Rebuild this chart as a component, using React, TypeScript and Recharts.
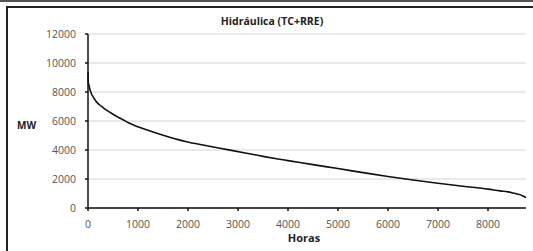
import React from 'react';
import { LineChart, Line, XAxis, YAxis, CartesianGrid } from 'recharts';

const hours = [0, 5, 20, 40, 67, 100, 167, 230, 300, 400, 500, 600, 700, 800, 900, 1170, 1440, 1700, 1970, 2300, 2640, 3170, 3500, 3800, 4000, 4500, 5000, 5500, 6000, 6500, 7000, 7500, 8000, 8240, 8400, 8506, 8600, 8680, 8740, 8760];
const mw = [9400, 8700, 8450, 8150, 7900, 7680, 7330, 7120, 6930, 6680, 6470, 6270, 6090, 5900, 5740, 5390, 5080, 4810, 4570, 4340, 4120, 3780, 3560, 3380, 3270, 2990, 2720, 2440, 2170, 1930, 1710, 1500, 1300, 1180, 1110, 1030, 950, 860, 760, 720];
const xTicks = [0, 1000, 2000, 3000, 4000, 5000, 6000, 7000, 8000];
const yTicks = [0, 2000, 4000, 6000, 8000, 10000, 12000];
const title = 'Hidráulica (TC+RRE)';
const xLabel = 'Horas';
const yLabel = 'MW';

const data = hours.map((h, i) => ({ h, v: mw[i] }));

const FONT = '"Open Sans", "DejaVu Sans", sans-serif';

export default function App() {
  return (
    <div style={{ position: 'absolute', left: 0, top: 0, width: 533, height: 251, background: '#fff', overflow: 'hidden' }}>
      <div style={{ position: 'absolute', left: 0, top: 0, width: 533, height: 2, background: '#555' }} />
      <div style={{ position: 'absolute', left: 6, top: 6, width: 527, height: 1.5, background: '#222' }} />
      <div style={{ position: 'absolute', left: 6, top: 6, width: 1.5, height: 245, background: '#222' }} />
      <LineChart width={533} height={251} data={data} margin={{ top: 34, right: 7, bottom: 0, left: 0 }}>
        <CartesianGrid horizontal={true} vertical={false} stroke="#d4d4d4" strokeWidth={1} />
        <XAxis
          dataKey="h"
          type="number"
          domain={[0, 8760]}
          ticks={xTicks}
          height={43}
          tickSize={3}
          tickMargin={10}
          stroke="#111"
          strokeWidth={1.5}
          tick={{ fill: '#555', fontSize: 10.5, fontFamily: FONT }}
          label={{ value: xLabel, position: 'insideBottom', offset: 9, dx: -3, fill: '#222', fontSize: 11, fontWeight: 700, fontFamily: FONT }}
        />
        <YAxis
          type="number"
          domain={[0, 12000]}
          ticks={yTicks}
          width={88}
          tickSize={3}
          tickMargin={9}
          stroke="#111"
          strokeWidth={1.5}
          tick={{ fill: '#555', fontSize: 10.5, fontFamily: FONT }}
          label={{ value: yLabel, position: 'insideLeft', offset: 17, dy: 4, fill: '#222', fontSize: 10, fontWeight: 700, fontFamily: FONT }}
        />
        <text x={272} y={25} textAnchor="middle" fill="#222" fontSize={10.5} fontWeight={700} fontFamily={FONT}>{title}</text>
        <Line dataKey="v" type="monotone" stroke="#111" strokeWidth={1.6} dot={false} isAnimationActive={false} />
      </LineChart>
    </div>
  );
}
